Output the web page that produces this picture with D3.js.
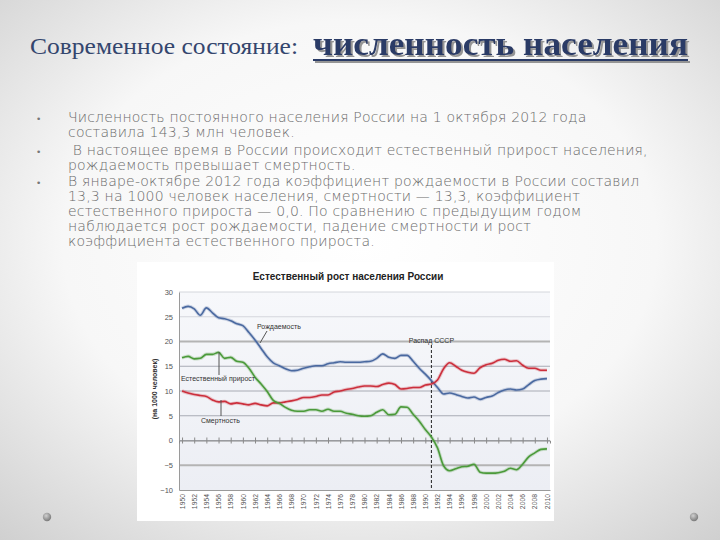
<!DOCTYPE html>
<html><head><meta charset="utf-8">
<script src="https://cdn.jsdelivr.net/npm/d3@7"></script>
<style>
html,body{margin:0;padding:0;background:#fff;}
svg{display:block;}
</style></head>
<body>
<svg id="slide" width="720" height="540"></svg>
<script>
// ---------- DATA ----------
const years = [1950,1951,1952,1953,1954,1955,1956,1957,1958,1959,
  1960,1961,1962,1963,1964,1965,1966,1967,1968,1969,
  1970,1971,1972,1973,1974,1975,1976,1977,1978,1979,
  1980,1981,1982,1983,1984,1985,1986,1987,1988,1989,
  1990,1991,1992,1993,1994,1995,1996,1997,1998,1999,
  2000,2001,2002,2003,2004,2005,2006,2007,2008,2009,2010];
const birthRate = [26.7,27.1,26.6,25.3,26.8,25.8,24.8,24.6,24.2,23.6,
  23.2,21.8,20.3,18.6,16.9,15.7,15.1,14.5,14.1,14.2,
  14.6,14.9,15.1,15.1,15.5,15.7,15.9,15.8,15.8,15.8,
  15.9,16.0,16.6,17.5,16.8,16.6,17.2,17.2,16.0,14.6,
  13.4,12.1,10.7,9.4,9.6,9.3,8.9,8.6,8.8,8.3,
  8.7,9.0,9.7,10.2,10.4,10.2,10.4,11.3,12.1,12.4,12.5];
const deathRate = [10.0,9.6,9.3,9.1,8.9,8.2,7.8,7.9,7.4,7.6,
  7.4,7.2,7.5,7.2,7.0,7.6,7.6,7.8,8.0,8.3,
  8.7,8.7,8.9,9.2,9.2,9.8,10.0,10.3,10.5,10.8,
  11.0,11.0,10.9,11.3,11.6,11.3,10.4,10.5,10.7,10.7,
  11.2,11.4,12.2,14.5,15.7,15.0,14.2,13.8,13.6,14.7,
  15.3,15.6,16.2,16.4,16.0,16.1,15.2,14.6,14.6,14.2,14.2];
const naturalIncrease = [16.7,17.0,16.5,16.6,17.4,17.4,17.8,16.6,16.8,16.0,
  15.8,14.6,12.8,11.4,9.9,8.1,7.5,6.7,6.1,5.9,
  5.9,6.2,6.2,5.9,6.3,5.9,5.9,5.5,5.3,5.0,
  4.9,5.0,5.7,6.2,5.2,5.3,6.8,6.7,5.3,3.9,
  2.2,0.7,-1.5,-5.1,-6.1,-5.7,-5.3,-5.2,-4.8,-6.4,
  -6.6,-6.6,-6.5,-6.2,-5.6,-5.9,-4.8,-3.3,-2.5,-1.8,-1.7];
const xTickLabels = [1950,1952,1954,1956,1958,1960,1962,1964,1966,1968,
  1970,1972,1974,1976,1978,1980,1982,1984,1986,1988,
  1990,1992,1994,1996,1998,2000,2002,2004,2006,2008,2010];
const yTicks = [-10,-5,0,5,10,15,20,25,30];
const seriesNames = ["Рождаемость","Смертность","Естественный прирост"];
const eventYear = 1991;
const eventLabel = "Распад СССР";
const chartTitle = "Естественный рост населения России";
const yAxisTitle = "(на 1000 человек)";
const slideTitleA = "Современное состояние:";
const slideTitleB = "численность населения";
const bullets = [
  ["Численность постоянного населения России на 1 октября 2012 года",
   "составила 143,3 млн человек."],
  [" В настоящее время в России происходит естественный прирост населения,",
   "рождаемость превышает смертность."],
  ["В январе-октябре 2012 года коэффициент рождаемости в России составил",
   "13,3 на 1000 человек населения, смертности — 13,3, коэффициент",
   "естественного прироста — 0,0. По сравнению с предыдущим годом",
   "наблюдается рост рождаемости, падение смертности и рост",
   "коэффициента естественного прироста."]
];

// ---------- DRAW ----------
const svg = d3.select("#slide");
const defs = svg.append("defs");
const bg = defs.append("radialGradient").attr("id","bg").attr("cx","50%").attr("cy","45%").attr("r","75%");
bg.append("stop").attr("offset","0%").attr("stop-color","#ffffff");
bg.append("stop").attr("offset","55%").attr("stop-color","#f7f7f7");
bg.append("stop").attr("offset","100%").attr("stop-color","#cfcfcf");
svg.append("rect").attr("width",720).attr("height",540).attr("fill","url(#bg)");

const dotG = defs.append("radialGradient").attr("id","dot").attr("cx","40%").attr("cy","35%").attr("r","65%");
dotG.append("stop").attr("offset","0%").attr("stop-color","#d0d0d0");
dotG.append("stop").attr("offset","100%").attr("stop-color","#7a7a7a");
[47,694].forEach(cx=>svg.append("circle").attr("cx",cx).attr("cy",517).attr("r",4.2).attr("fill","url(#dot)"));

const shadow = defs.append("filter").attr("id","shadow").attr("x","-5%").attr("y","-20%").attr("width","110%").attr("height","150%");
shadow.append("feDropShadow").attr("dx",2).attr("dy",2).attr("stdDeviation",0.6)
  .attr("flood-color","#8a8a8a").attr("flood-opacity",0.9);

// Title
svg.append("text").attr("x",30).attr("y",54)
  .attr("font-family","'Liberation Serif','DejaVu Serif',serif").attr("font-size",23)
  .attr("fill","#34466e").attr("textLength",268).attr("lengthAdjust","spacingAndGlyphs")
  .text(slideTitleA);
const tg = svg.append("g").attr("filter","url(#shadow)");
tg.append("text").attr("x",313).attr("y",55)
  .attr("font-family","'Liberation Serif','DejaVu Serif',serif").attr("font-size",34).attr("font-weight","bold")
  .attr("fill","#2b3b66").attr("textLength",375).attr("lengthAdjust","spacingAndGlyphs")
  .text(slideTitleB);
tg.append("line").attr("x1",313).attr("x2",688).attr("y1",60).attr("y2",60).attr("stroke","#2b3b66").attr("stroke-width",2);

// Bullets
const bulletTop = [122,155,186];
const lineH = 15;
bullets.forEach((lines,i)=>{
  svg.append("text").attr("x",36).attr("y",bulletTop[i]).attr("font-size",9)
    .attr("font-family","'DejaVu Sans',sans-serif").attr("fill","#777").text("•");
  lines.forEach((t,j)=>{
    svg.append("text").attr("x",68).attr("y",bulletTop[i]+j*lineH)
      .attr("font-family","'DejaVu Sans',sans-serif").attr("font-weight",200).attr("font-size",14)
      .attr("letter-spacing",0.2)
      .attr("fill","#6a6a6a").attr("xml:space","preserve").style("white-space","pre").text(t);
  });
});

// Chart image box
svg.append("rect").attr("x",137).attr("y",262).attr("width",417).attr("height",259).attr("fill","#ffffff");

svg.append("text").attr("x",348).attr("y",280).attr("text-anchor","middle")
  .attr("font-family","'Liberation Sans',Arial,sans-serif").attr("font-weight","bold").attr("font-size",10)
  .attr("fill","#222").text(chartTitle);

const plot = {l:179, r:550, t:292, b:490};
const x = d3.scalePoint().domain(years).range([plot.l, plot.r]).padding(0.5);
const y = d3.scaleLinear().domain([-10,30]).range([plot.b, plot.t]);

const pg = defs.append("linearGradient").attr("id","plotbg").attr("x1",0).attr("y1",0).attr("x2",0).attr("y2",1);
pg.append("stop").attr("offset","0%").attr("stop-color","#f7f8fb");
pg.append("stop").attr("offset","100%").attr("stop-color","#eceef4");
svg.append("rect").attr("x",plot.l).attr("y",plot.t).attr("width",plot.r-plot.l).attr("height",plot.b-plot.t).attr("fill","url(#plotbg)");

// gridlines
svg.append("g").selectAll("line").data(yTicks.filter(d=>d!==-10)).join("line")
  .attr("x1",plot.l).attr("x2",plot.r).attr("y1",d=>y(d)).attr("y2",d=>y(d))
  .attr("stroke",d=>(d===20||d===-5)?"#b4b4b4":(d===30||d===25?"#d4d6dc":"#a8abb4"))
  .attr("stroke-width",d=>(d===20||d===-5)?2:1);

// y axis
const yAxis = d3.axisLeft(y).tickValues(yTicks).tickSize(0).tickPadding(6);
const yg = svg.append("g").attr("transform",`translate(${plot.l},0)`).call(yAxis);
yg.select(".domain").attr("stroke","#9a9a9a");
yg.selectAll("text").attr("font-family","'Liberation Sans',Arial,sans-serif").attr("font-size",7.5).attr("fill","#555");

// zero line axis with ticks
const zg = svg.append("g").attr("transform",`translate(0,${y(0)})`)
  .call(d3.axisBottom(x).tickValues(xTickLabels).tickSize(3).tickFormat(""));
zg.select(".domain").attr("stroke","#8a8a8a");
zg.selectAll(".tick line").attr("stroke","#8a8a8a").attr("y1",-3).attr("y2",3);

// bottom axis with labels
const xg = svg.append("g").attr("transform",`translate(0,${plot.b})`)
  .call(d3.axisBottom(x).tickValues(xTickLabels).tickSize(0).tickPadding(4));
xg.select(".domain").attr("stroke","#9a9a9a");
xg.selectAll("text").attr("font-family","'Liberation Sans',Arial,sans-serif").attr("font-size",6.8).attr("fill","#555")
  .attr("text-anchor","end").attr("dy","0.32em").attr("transform","rotate(-90)").attr("x",-4).attr("y",0);

// y axis title
svg.append("text").attr("transform","translate(157,389) rotate(-90)").attr("text-anchor","middle")
  .attr("font-family","'Liberation Sans',Arial,sans-serif").attr("font-weight","bold").attr("font-size",7)
  .attr("fill","#333").text(yAxisTitle);

// event line
svg.append("line").attr("x1",x(eventYear)).attr("x2",x(eventYear)).attr("y1",345).attr("y2",plot.b)
  .attr("stroke","#222").attr("stroke-width",1).attr("stroke-dasharray","3,2");
svg.append("text").attr("x",x(eventYear)).attr("y",343).attr("text-anchor","middle")
  .attr("font-family","'Liberation Sans',Arial,sans-serif").attr("font-size",7).attr("fill","#333").text(eventLabel);

// series lines
const series = [
  {name:seriesNames[0], values:birthRate, color:"#4a69a0"},
  {name:seriesNames[1], values:deathRate, color:"#cc2f3c"},
  {name:seriesNames[2], values:naturalIncrease, color:"#4b9a3a"}
];
const line = d3.line().x((d,i)=>x(years[i])).y(d=>y(d)).curve(d3.curveMonotoneX);
series.forEach(s=>{
  svg.append("path").attr("d",line(s.values)).attr("fill","none").attr("stroke",s.color)
    .attr("stroke-opacity",0.25).attr("stroke-width",3.5);
  svg.append("path").attr("d",line(s.values)).attr("fill","none").attr("stroke",s.color).attr("stroke-width",1.6);
});

// annotations
const annFont = "'Liberation Sans',Arial,sans-serif";
function ann(tx,ty,label,x1,y1,x2,y2){
  svg.append("line").attr("x1",x1).attr("y1",y1).attr("x2",x2).attr("y2",y2).attr("stroke","#555").attr("stroke-width",1);
  svg.append("text").attr("x",tx).attr("y",ty).attr("font-family",annFont).attr("font-size",7).attr("fill","#333").text(label);
}
ann(257,329,seriesNames[0], 267,331, 260,343);
ann(181,381,seriesNames[2], 219,352, 219,375);
ann(201,423,seriesNames[1], 221,400, 221,416);
</script>
</body></html>
